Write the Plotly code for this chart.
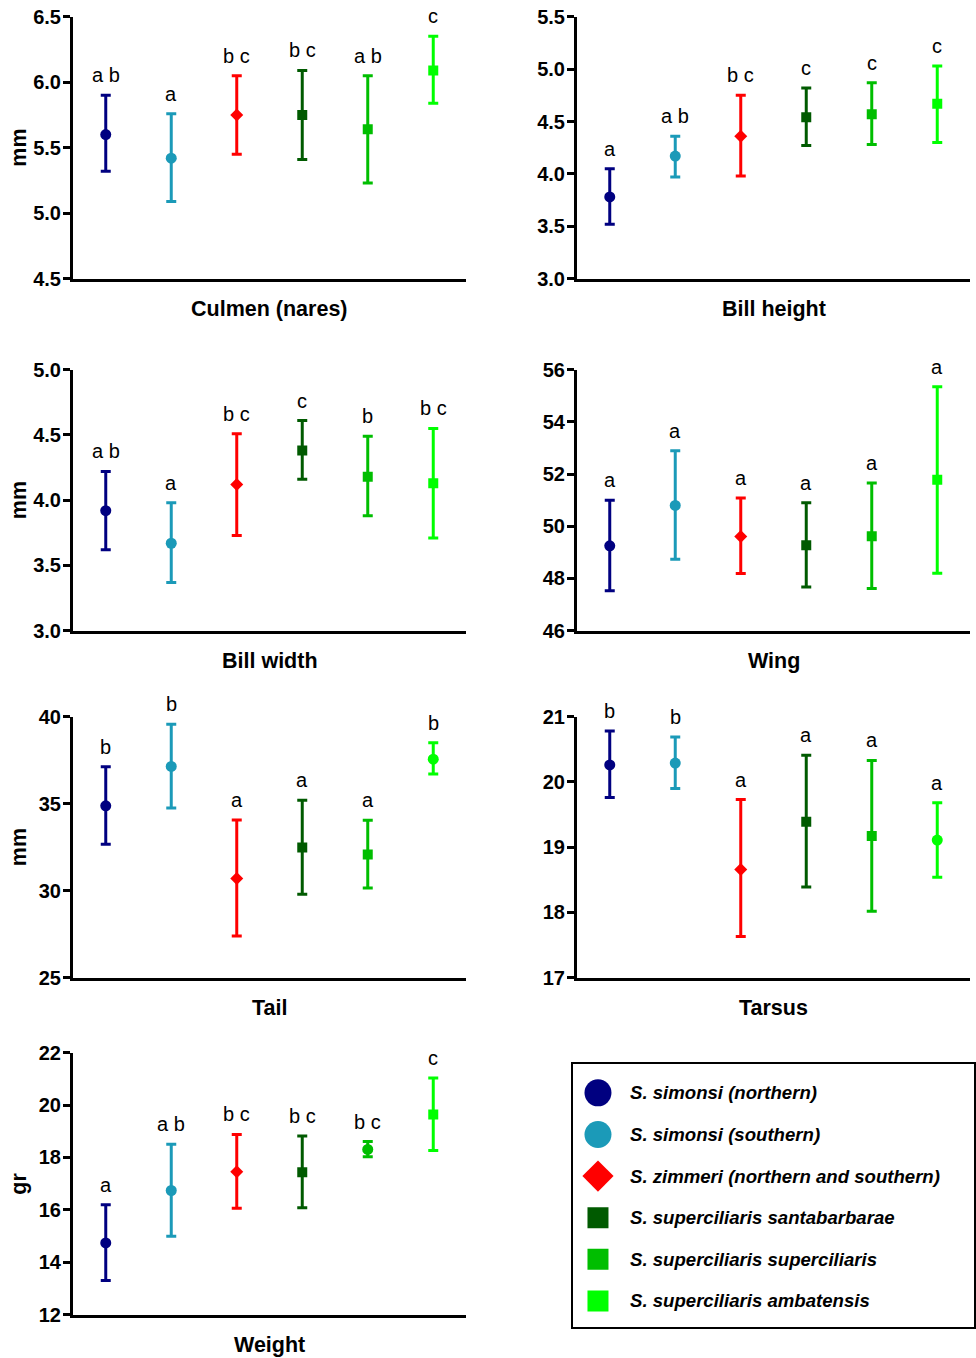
import plotly.graph_objects as go

# ---------------- data ----------------
species = [
    "S. simonsi (northern)",
    "S. simonsi (southern)",
    "S. zimmeri (northern and southern)",
    "S. superciliaris santabarbarae",
    "S. superciliaris superciliaris",
    "S. superciliaris ambatensis",
]
colors = ["#000080", "#1B9AB8", "#FF0000", "#005A00", "#00BE00", "#00FF00"]
legend_symbols = ["circle", "circle", "diamond", "square", "square", "square"]
categories = [0, 1, 2, 3, 4, 5]

panel_titles = ["Culmen (nares)", "Bill height", "Bill width", "Wing", "Tail", "Tarsus", "Weight"]
y_titles = ["mm", "", "mm", "", "mm", "", "gr"]

culmen_mean = [5.60, 5.42, 5.75, 5.75, 5.64, 6.09]
culmen_upper = [5.90, 5.76, 6.05, 6.09, 6.05, 6.35]
culmen_lower = [5.32, 5.09, 5.45, 5.41, 5.23, 5.84]
culmen_letters = ["a b", "a", "b c", "b c", "a b", "c"]
culmen_symbols = ["circle", "circle", "diamond", "square", "square", "square"]

billh_mean = [3.78, 4.17, 4.36, 4.54, 4.57, 4.67]
billh_upper = [4.05, 4.36, 4.75, 4.82, 4.87, 5.03]
billh_lower = [3.52, 3.97, 3.98, 4.27, 4.28, 4.30]
billh_letters = ["a", "a b", "b c", "c", "c", "c"]
billh_symbols = ["circle", "circle", "diamond", "square", "square", "square"]

billw_mean = [3.92, 3.67, 4.12, 4.38, 4.18, 4.13]
billw_upper = [4.22, 3.98, 4.51, 4.61, 4.49, 4.55]
billw_lower = [3.62, 3.37, 3.73, 4.16, 3.88, 3.71]
billw_letters = ["a b", "a", "b c", "c", "b", "b c"]
billw_symbols = ["circle", "circle", "diamond", "square", "square", "square"]

wing_mean = [49.25, 50.80, 49.61, 49.27, 49.62, 51.78]
wing_upper = [51.00, 52.89, 51.08, 50.90, 51.66, 55.35]
wing_lower = [47.53, 48.74, 48.19, 47.67, 47.62, 48.20]
wing_letters = ["a", "a", "a", "a", "a", "a"]
wing_symbols = ["circle", "circle", "diamond", "square", "square", "square"]

tail_mean = [34.88, 37.14, 30.70, 32.48, 32.08, 37.56]
tail_upper = [37.12, 39.56, 34.07, 35.20, 34.05, 38.50]
tail_lower = [32.67, 34.76, 27.40, 29.79, 30.16, 36.70]
tail_letters = ["b", "b", "a", "a", "a", "b"]
tail_symbols = ["circle", "circle", "diamond", "square", "square", "circle"]

tarsus_mean = [20.26, 20.29, 18.66, 19.39, 19.17, 19.11]
tarsus_upper = [20.78, 20.69, 19.73, 20.41, 20.33, 19.68]
tarsus_lower = [19.76, 19.90, 17.63, 18.39, 18.02, 18.54]
tarsus_letters = ["b", "b", "a", "a", "a", "a"]
tarsus_symbols = ["circle", "circle", "diamond", "square", "square", "circle"]

weight_mean = [14.74, 16.74, 17.46, 17.44, 18.31, 19.64]
weight_upper = [16.20, 18.51, 18.88, 18.82, 18.61, 21.03]
weight_lower = [13.31, 14.99, 16.06, 16.08, 18.03, 18.27]
weight_letters = ["a", "a b", "b c", "b c", "b c", "c"]
weight_symbols = ["circle", "circle", "diamond", "square", "circle", "square"]

y_ranges = [[4.5, 6.5], [3.0, 5.5], [3.0, 5.0], [46, 56], [25, 40], [17, 21], [12, 22]]
y_dticks = [0.5, 0.5, 0.5, 2, 5, 1, 2]
y_formats = [".1f", ".1f", ".1f", "d", "d", "d", "d"]

panels = [
    (culmen_mean, culmen_upper, culmen_lower, culmen_letters, culmen_symbols),
    (billh_mean, billh_upper, billh_lower, billh_letters, billh_symbols),
    (billw_mean, billw_upper, billw_lower, billw_letters, billw_symbols),
    (wing_mean, wing_upper, wing_lower, wing_letters, wing_symbols),
    (tail_mean, tail_upper, tail_lower, tail_letters, tail_symbols),
    (tarsus_mean, tarsus_upper, tarsus_lower, tarsus_letters, tarsus_symbols),
    (weight_mean, weight_upper, weight_lower, weight_letters, weight_symbols),
]

# ---------------- layout geometry ----------------
W, H = 976, 1358
col_px = [(73, 466), (577, 970)]
row_px = [(17, 279), (370, 631), (717, 978), (1053, 1315)]

# vertical calibration of the rendered page
VS, VO = 0.9838, 11.3


def fx(px):
    return px / W


def fy(px):
    y = (px - VO) / VS
    return min(1.0, max(0.0, 1 - y / H))


FONT = "Liberation Sans, Arial, sans-serif"
marker_sizes = {"circle": 11, "diamond": 10, "square": 10}
legend_sizes = {"circle": 27, "diamond": 24, "square": 21}

fig = go.Figure()
annotations = []
layout_axes = {}

for p, (mean, upper, lower, letters, symbols) in enumerate(panels):
    n = p + 1
    xa = "x" if n == 1 else f"x{n}"
    ya = "y" if n == 1 else f"y{n}"
    r, c = divmod(p, 2)
    x0, x1 = col_px[c]
    t0, t1 = row_px[r]
    for i in categories:
        fig.add_trace(go.Scatter(
            x=[categories[i]], y=[mean[i]], mode="markers",
            xaxis=xa, yaxis=ya, showlegend=False, name=species[i],
            marker=dict(symbol=symbols[i], size=marker_sizes[symbols[i]], color=colors[i]),
            error_y=dict(type="data", symmetric=False,
                         array=[upper[i] - mean[i]], arrayminus=[mean[i] - lower[i]],
                         color=colors[i], thickness=3, width=5),
        ))
        annotations.append(dict(
            x=categories[i], y=upper[i], xref=xa, yref=ya, text=letters[i],
            showarrow=False, yanchor="bottom", yshift=7,
            font=dict(family=FONT, size=20, color="black"),
        ))
    xkey = "xaxis" if n == 1 else f"xaxis{n}"
    ykey = "yaxis" if n == 1 else f"yaxis{n}"
    layout_axes[xkey] = dict(
        domain=[fx(x0), fx(x1)], anchor=ya, range=[-0.5, 5.5],
        showline=True, linewidth=3, linecolor="black", ticks="",
        showticklabels=False, showgrid=False, zeroline=False,
    )
    layout_axes[ykey] = dict(
        domain=[fy(t1), fy(t0)], anchor=xa, range=y_ranges[p],
        tick0=y_ranges[p][0], dtick=y_dticks[p], tickformat=y_formats[p],
        showline=True, linewidth=3, linecolor="black", ticks="outside",
        ticklen=7, tickwidth=3, tickcolor="black", showgrid=False, zeroline=False,
        ticklabelstandoff=-2,
        tickfont=dict(family=FONT, size=20, color="black", weight="bold"),
    )
    # x-axis title
    annotations.append(dict(
        x=0.5, y=0, xref=f"{xa} domain", yref=f"{ya} domain", text=f"<b>{panel_titles[p]}</b>",
        showarrow=False, yanchor="middle", yshift=-30,
        font=dict(family=FONT, size=21.5, color="black"),
    ))
    if y_titles[p]:
        annotations.append(dict(
            x=fx(19), y=0.5, xref="paper", yref=f"{ya} domain", text=f"<b>{y_titles[p]}</b>",
            showarrow=False, textangle=-90, xanchor="center", yanchor="middle",
            font=dict(family=FONT, size=21.5, color="black"),
        ))

# ---------------- manual legend (axis 8) ----------------
leg_rows = [0, 1, 2, 3, 4, 5]
for i in leg_rows:
    fig.add_trace(go.Scatter(
        x=[0.0623], y=[leg_rows[i]], mode="markers", xaxis="x8", yaxis="y8",
        showlegend=False, name=species[i],
        marker=dict(symbol=legend_symbols[i], size=legend_sizes[legend_symbols[i]], color=colors[i]),
    ))
    annotations.append(dict(
        x=0.137, y=leg_rows[i], xref="x8", yref="y8", text=f"<b><i>{species[i]}</i></b>",
        showarrow=False, xanchor="left", yanchor="middle",
        font=dict(family=FONT, size=18.6, color="black"),
    ))

layout_axes["xaxis8"] = dict(
    domain=[fx(573), fx(974)], anchor="y8", range=[0, 1],
    showline=True, mirror=True, linewidth=2, linecolor="black",
    ticks="", showticklabels=False, showgrid=False, zeroline=False,
)
layout_axes["yaxis8"] = dict(
    domain=[fy(1327), fy(1064)], anchor="x8", range=[5.62, -0.70],
    showline=True, mirror=True, linewidth=2, linecolor="black",
    ticks="", showticklabels=False, showgrid=False, zeroline=False,
)

fig.update_layout(
    width=W, height=H, margin=dict(l=0, r=0, t=0, b=0),
    paper_bgcolor="white", plot_bgcolor="white",
    showlegend=False, annotations=annotations, **layout_axes,
)

fig.write_html(
    "out.html",
    config={"displayModeBar": False},
    post_script="document.body.style.margin='0';document.documentElement.style.overflow='hidden';",
)
